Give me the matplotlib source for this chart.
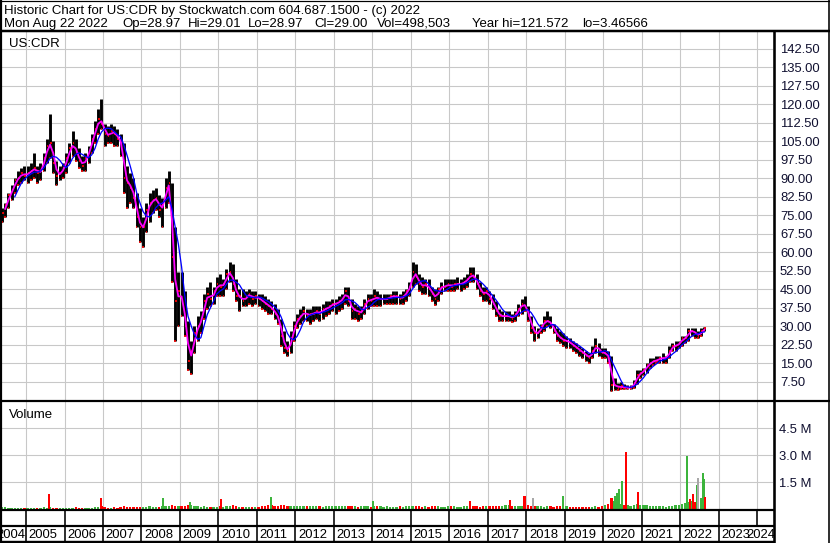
import matplotlib
matplotlib.use("Agg")
import matplotlib.pyplot as plt
import numpy as np
import pandas as pd

plt.rcParams['font.family'] = ['Liberation Sans', 'DejaVu Sans']

# monthly bars, May 2004 .. Aug 2022 (one row per year)
highs = [
    78, 80, 84, 87, 90, 93, 94, 95,                          # 2004
    95, 96, 100, 95, 96, 100, 106, 116, 105, 97, 95, 96,     # 2005
    100, 104, 109, 106, 102, 99, 100, 103, 108, 113, 118, 122,
    112, 111, 112, 111, 110, 108, 104, 95, 92, 90, 84, 78,
    74, 80, 84, 85, 86, 83, 82, 90, 93, 88, 70, 52,
    52, 44, 32, 24, 30, 34, 36, 43, 46, 48, 46, 50,
    51, 49, 53, 56, 55, 49, 45, 45, 44, 45, 44, 44,          # 2010
    43, 43, 42, 41, 40, 39, 37, 33, 28, 24, 28, 32,
    35, 37, 38, 37, 37, 38, 38, 38, 39, 40, 40, 41,
    41, 42, 43, 46, 46, 41, 39, 38, 38, 41, 43, 43,
    45, 44, 43, 43, 43, 43, 44, 44, 43, 44, 45, 48,
    56, 55, 51, 50, 49, 49, 46, 45, 46, 48, 49, 49,          # 2015
    49, 49, 50, 49, 50, 51, 54, 54, 51, 48, 46, 46,
    44, 43, 40, 37, 36, 36, 36, 35, 36, 39, 41, 42,
    38, 34, 30, 29, 31, 34, 36, 34, 31, 29, 28, 27,
    26, 25, 24, 23, 22, 21, 20, 19, 22, 25, 23, 21,
    21, 20, 18, 9, 7, 7.5, 6.5, 6, 6, 8, 12, 12,             # 2020
    13, 15, 17, 17, 18, 18, 19, 18, 22, 23, 24, 24,
    26, 26, 29, 29, 29, 28, 29, 29.5,                        # 2022
]
lows = [
    72, 74, 78, 81, 84, 87, 88, 89,
    88, 89, 90, 88, 89, 93, 96, 98, 92, 87, 89, 90,
    92, 96, 99, 97, 94, 93, 93, 96, 100, 104, 108, 110,
    103, 104, 104, 103, 103, 99, 84, 78, 80, 78, 70, 64,
    62, 68, 72, 76, 77, 74, 70, 78, 80, 48, 24, 30,
    34, 26, 12, 10.5, 19, 24, 27, 33, 37, 38, 39, 42,
    42, 42, 45, 48, 44, 40, 36, 38, 38, 39, 38, 39,
    38, 37, 36, 35, 35, 33, 31, 22, 19, 18, 19, 24,
    29, 31, 32, 32, 31, 32, 33, 32, 33, 34, 35, 36,
    35, 36, 37, 39, 38, 33, 33, 32, 33, 35, 37, 38,
    38, 38, 38, 39, 39, 39, 39, 39, 39, 39, 40, 42,
    46, 47, 44, 43, 43, 42, 40, 38.5, 40, 43, 44, 44,
    44, 44, 45, 44, 45, 46, 48, 48, 45, 42, 40, 40,
    39, 37, 34, 32, 32, 32, 32, 31.5, 32, 34, 35, 36,
    32, 27, 24, 25, 27, 28, 30, 29, 27, 24, 23, 22,
    21, 21, 20, 19, 18, 17, 16, 15, 17, 19, 18, 17,
    17, 15, 3.5, 4, 4, 4.5, 4.5, 4.5, 4.5, 5, 6.5, 9,
    10, 11, 13, 14, 15, 15, 15, 15, 17, 20, 20, 21,
    22, 23, 24, 26, 25, 25, 26, 28,
]
closes = [
    76, 79, 83, 85, 89, 90, 92, 91,
    92, 93, 94, 92, 93, 98, 103, 104, 96, 91, 92, 94,
    98, 102, 104, 100, 97, 95, 98, 101, 106, 110, 114, 112,
    108, 107, 109, 108, 106, 104, 90, 88, 86, 82, 74, 70,
    70, 77, 80, 81, 82, 77, 79, 86, 88, 58, 40, 44,
    40, 30, 16, 20, 27, 30, 33, 40, 43, 41, 44, 47,
    46, 47, 51, 52, 47, 42, 42, 40, 42, 43, 41, 42,
    41, 40, 39, 38, 37, 35, 33, 26, 21, 20, 25, 30,
    33, 34, 36, 34, 35, 35, 36, 35, 37, 37, 38, 39,
    39, 40, 41, 44, 40, 36, 37, 35, 36, 39, 41, 40,
    42, 41, 41, 41, 41, 42, 42, 42, 41, 42, 44, 46,
    52, 50, 47, 46, 47, 45, 43, 41, 45, 46, 46, 47,
    46, 47, 47, 47, 48, 49, 51, 50, 47, 44, 43, 44,
    41, 39, 36, 34, 34, 34, 34, 33, 35, 37, 39, 38,
    34, 29, 27, 27, 30, 32, 32, 31, 28, 26, 25, 24,
    24, 23, 22, 21, 20, 19, 18, 17, 20, 22, 20, 19,
    19, 17, 6, 6, 5, 5.5, 5, 5, 5, 7, 10, 11,
    12, 14, 15, 16, 16, 17, 17, 17, 20, 22, 22, 23,
    25, 25, 28, 28, 27, 26, 28, 29,
]
# typical monthly volume bar, thousands of shares
volumes_k = [
    120, 90, 80, 70, 60, 80, 70, 60,
    70, 60, 80, 60, 70, 90, 80, 120, 70, 60, 80, 60,
    70, 80, 60, 90, 80, 70, 80, 70, 60, 90, 110, 150,
    90, 80, 70, 100, 80, 90, 150, 120, 100, 110, 90, 120,
    130, 110, 140, 120, 100, 130, 160, 150, 140, 200, 180, 150,
    140, 160, 200, 250, 180, 150, 130, 140, 120, 110, 130, 120,
    150, 130, 140, 160, 200, 150, 130, 120, 110, 130, 120, 110,
    130, 150, 170, 200, 250, 180, 160, 230, 200, 180, 150, 140,
    150, 160, 140, 170, 150, 180, 160, 140, 130, 150, 140, 160,
    150, 140, 160, 170, 190, 150, 140, 130, 140, 150, 160, 130,
    170, 150, 140, 130, 140, 120, 130, 120, 140, 130, 150, 160,
    180, 150, 140, 130, 150, 120, 140, 160, 150, 130, 120, 140,
    150, 140, 130, 120, 140, 180, 160, 150, 140, 130, 150, 140,
    160, 150, 170, 180, 140, 200, 230, 180, 150, 170, 190, 250,
    200, 180, 160, 150, 140, 130, 150, 140, 130, 160, 150, 200,
    150, 130, 120, 110, 120, 100, 110, 100, 120, 140, 130, 150,
    200, 260, 600, 450, 350, 300, 250, 200, 180, 220, 300, 250,
    220, 200, 180, 160, 150, 140, 150, 130, 140, 180, 200, 220,
    300, 350, 400, 450, 380, 350, 600, 400,
]
# single heavy-volume days
spike_dates = [2005.60, 2006.95, 2008.56, 2009.26, 2010.06, 2011.36, 2014.01,
               2016.54, 2017.57, 2017.95, 2018.18, 2018.96, 2020.30, 2020.36,
               2020.40, 2020.49, 2020.58, 2020.90, 2022.17, 2022.25, 2022.32,
               2022.43, 2022.47, 2022.58, 2022.62, 2022.64]
spike_vols_m = [0.81, 0.60, 0.60, 0.38, 0.53, 0.69, 0.43,
                0.43, 0.50, 0.70, 0.60, 0.75, 0.75, 0.90,
                1.10, 1.55, 3.16, 0.93, 2.97, 0.55, 0.83,
                1.34, 1.72, 1.99, 1.65, 0.65]
spike_dirs = ['dn', 'dn', 'up', 'up', 'dn', 'up', 'up',
              'dn', 'dn', 'dn', 'flat', 'up', 'up', 'up',
              'up', 'up', 'dn', 'dn', 'up', 'dn', 'dn',
              'up', 'flat', 'up', 'up', 'dn']

price_ticks = np.arange(7.5, 143, 7.5)
vol_ticks = [1.5e6, 3.0e6, 4.5e6]
years = np.arange(2005, 2025)

months = pd.period_range('2004-05', '2022-08', freq='M')
t = months.year + (months.month - 0.5) / 12
close_s = pd.Series(closes, dtype=float)
ma_fast = close_s.rolling(2).mean()
ma_slow = close_s.rolling(5).mean()

W, H = 830, 543
PX = 0.72
GRID = '#c8c8c8'
GREEN, RED, GREY = '#3cb43c', '#ff0000', '#a8a8a8'
dir_color = {'up': GREEN, 'dn': RED, 'flat': GREY}
x_lim = (2004.376, 2024.408)

fig = plt.figure(figsize=(8.3, 5.43), dpi=100)


def box(x0, y0, x1, y1):
    a = fig.add_axes([x0 / W, 1 - y1 / H, (x1 - x0) / W, (y1 - y0) / H])
    a.set_xlim(*x_lim)
    for s in a.spines.values():
        s.set_visible(False)
    return a


# price panel
ax = box(2, 32, 773, 400)
ax.set_ylim(0, 149.2)
ax.set_xticks(years)
ax.set_yticks(price_ticks)
ax.set_yticklabels([f'{v:.2f}' for v in price_ticks])
ax.grid(color=GRID, lw=1.1 * PX)
ax.set_axisbelow(True)
ax.yaxis.tick_right()
ax.tick_params(axis='x', length=0, labelbottom=False)
ax.tick_params(axis='y', length=0, pad=5, labelsize=9.4, labelcolor='#101030')
ax.vlines(t, lows, highs, color='black', lw=2.9 * PX)
ax.hlines(closes, t, t + 0.04, color=RED, lw=1.8 * PX)
ax.hlines(lows, t - 0.02, t + 0.02, color=RED, lw=1.6 * PX)
ax.plot(t, ma_fast, color='#ff00ff', lw=1.8 * PX)
ax.plot(t, ma_slow, color='#0000ff', lw=1.3 * PX)

# volume panel
av = box(2, 402, 773, 509)
av.set_ylim(0, 5.95e6)
av.set_xticks(years)
av.set_yticks(vol_ticks)
av.set_yticklabels([f'{v / 1e6:.1f} M' for v in vol_ticks])
av.grid(color=GRID, lw=1.1 * PX)
av.set_axisbelow(True)
av.yaxis.tick_right()
av.tick_params(axis='x', length=0, labelbottom=False)
av.tick_params(axis='y', length=0, pad=4, labelsize=9.4, labelcolor='#101030')
prev = [closes[0]] + closes[:-1]
base_cols = [GREEN if c >= p else RED for c, p in zip(closes, prev)]
av.bar(t, np.array(volumes_k) * 1e3, width=0.06, color=base_cols, linewidth=0)
av.bar(spike_dates, np.array(spike_vols_m) * 1e6, width=0.055,
       color=[dir_color[d] for d in spike_dirs], linewidth=0)

# date rows
r1 = box(2, 510, 773, 526)
r2 = box(2, 526, 773, 542)
for r in (r1, r2):
    r.set_xticks([])
    r.set_yticks([])
    r.set_ylim(0, 1)
for y in years:
    r1.axvline(y, color='black', lw=1.6 * PX)
    if y < 2024:
        r2.axvline(y, color='black', lw=1.6 * PX)
        r2.text(y + 0.07, 0.45, str(y), fontsize=9.4, va='center', ha='left')
r2.text(2005 - 0.02, 0.45, '2004', fontsize=9.4, va='center', ha='right', clip_on=False)
r2.text(x_lim[1] + 0.06, 0.45, '2024', fontsize=9.4, va='center', ha='right', clip_on=False)

# frame and header, in pixel coordinates
ov = fig.add_axes([0, 0, 1, 1], zorder=10)
ov.set_xlim(0, W)
ov.set_ylim(H, 0)
ov.axis('off')
k = dict(color='black', solid_capstyle='butt')
ov.plot([1, 1], [0, H], lw=2.2 * PX, **k)
ov.plot([0, W], [0.5, 0.5], lw=1.2 * PX, **k)
ov.plot([829, 829], [0, H], lw=1.6 * PX, **k)
ov.plot([0, W], [31, 31], lw=2.5 * PX, **k)
ov.plot([774, 774], [31, H], lw=2.6 * PX, **k)
ov.plot([0, W], [401, 401], lw=2.2 * PX, **k)
ov.plot([0, 774], [510, 510], lw=2.2 * PX, **k)
ov.plot([0, 774], [526, 526], lw=2.2 * PX, **k)
ov.plot([0, 774], [542, 542], lw=2.4 * PX, **k)

hdr = dict(fontsize=9.5, va='baseline', ha='left', color='black')
ov.text(4, 14, 'Historic Chart for US:CDR by Stockwatch.com 604.687.1500 - (c) 2022', **hdr)
fields = [(4, 'Mon Aug 22 2022'), (122, 'Op=28.97'), (188, 'Hi=29.01'),
          (248, 'Lo=28.97'), (314, 'Cl=29.00'), (377, 'Vol=498,503'),
          (472, 'Year hi=121.572'), (582, 'lo=3.46566')]
for x, s in fields:
    ov.text(x, 27, s, **hdr)
ov.text(9, 47, 'US:CDR', **hdr)
ov.text(9, 418, 'Volume', **hdr)

fig.savefig('out.png', dpi=100)
